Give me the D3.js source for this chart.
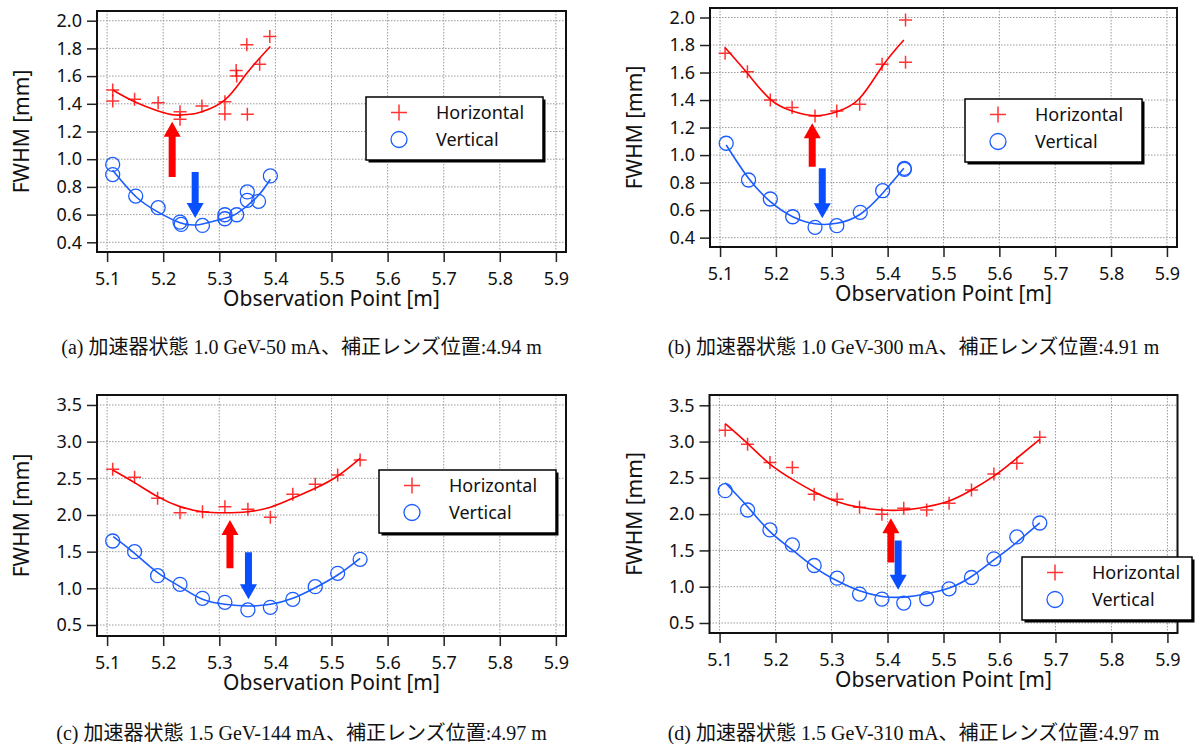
<!DOCTYPE html>
<html>
<head>
<meta charset="utf-8">
<script src="https://d3js.org/d3.v7.min.js"></script>
<style>
  body { margin: 0; background: #fff; }
  text { font-family: 'Noto Sans', sans-serif; fill: #111; }
  .grid line { stroke: #9a9a9a; stroke-width: 1; stroke-dasharray: 1.5,1.5; }
  .axis text { font-size: 18px; }
  .axis line { stroke: #222; stroke-width: 1.5px; }
  .axis path { display: none; }
  .title { font-size: 21px; text-anchor: middle; }
  .legend text { font-size: 18px; }
  .caption { font-family: 'Liberation Serif', 'Noto Sans CJK JP', serif; font-size: 20px; text-anchor: middle; }
</style>
</head>
<body>
<svg id="chart" width="1200" height="744"></svg>
<script>
// ticks
var xTicks = [5.1, 5.2, 5.3, 5.4, 5.5, 5.6, 5.7, 5.8, 5.9];
var yTicksLow = [0.4, 0.6, 0.8, 1.0, 1.2, 1.4, 1.6, 1.8, 2.0];
var yTicksHigh = [0.5, 1.0, 1.5, 2.0, 2.5, 3.0, 3.5];

// (a) 1.0 GeV-50 mA
var aHoriz = [[5.110,1.50],[5.110,1.42],[5.149,1.433],[5.191,1.408],[5.230,1.343],[5.230,1.288],
  [5.269,1.384],[5.310,1.415],[5.310,1.326],[5.330,1.64],[5.331,1.60],[5.349,1.826],[5.350,1.324],
  [5.372,1.686],[5.390,1.886]];
var aHorizFit = [[5.110,1.500],[5.149,1.415],[5.191,1.348],[5.221,1.319],[5.248,1.324],[5.269,1.343],
  [5.310,1.428],[5.349,1.620],[5.391,1.814]];
var aVert = [[5.110,0.962],[5.110,0.889],[5.151,0.734],[5.191,0.650],[5.230,0.546],[5.232,0.529],
  [5.270,0.522],[5.310,0.599],[5.310,0.570],[5.331,0.599],[5.350,0.764],[5.350,0.703],[5.370,0.696],
  [5.391,0.879]];
var aVertFit = [[5.110,0.920],[5.152,0.727],[5.191,0.618],[5.230,0.541],[5.266,0.529],[5.307,0.570],
  [5.331,0.607],[5.367,0.727],[5.391,0.855]];
var aArrows = [[5.216,0.872,1.27],[5.257,0.908,0.575]];

// (b) 1.0 GeV-300 mA
var bHoriz = [[5.109,1.740],[5.149,1.606],[5.190,1.400],[5.229,1.345],[5.270,1.284],[5.309,1.320],
  [5.350,1.369],[5.390,1.660],[5.432,1.982],[5.432,1.674]];
var bHorizFit = [[5.109,1.781],[5.149,1.594],[5.190,1.405],[5.229,1.320],[5.270,1.286],[5.309,1.315],
  [5.350,1.413],[5.390,1.642],[5.429,1.836]];
var bVert = [[5.111,1.086],[5.151,0.819],[5.190,0.681],[5.230,0.552],[5.270,0.475],[5.309,0.487],
  [5.351,0.584],[5.391,0.741],[5.430,0.904],[5.430,0.896]];
var bVertFit = [[5.111,1.073],[5.151,0.831],[5.190,0.661],[5.230,0.552],[5.270,0.501],[5.309,0.504],
  [5.351,0.570],[5.391,0.722],[5.429,0.904]];
var bArrows = [[5.265,0.916,1.231],[5.283,0.904,0.541]];

// (c) 1.5 GeV-144 mA
var cHoriz = [[5.110,2.623],[5.149,2.514],[5.190,2.228],[5.230,2.031],[5.270,2.045],[5.310,2.114],
  [5.351,2.078],[5.391,1.968],[5.431,2.282],[5.471,2.418],[5.511,2.545],[5.551,2.750]];
var cHorizFit = [[5.110,2.614],[5.149,2.441],[5.190,2.250],[5.230,2.114],[5.270,2.045],[5.310,2.031],
  [5.351,2.045],[5.391,2.105],[5.431,2.228],[5.471,2.364],[5.511,2.532],[5.551,2.773]];
var cVert = [[5.110,1.645],[5.149,1.500],[5.190,1.172],[5.230,1.055],[5.270,0.864],[5.310,0.809],
  [5.351,0.705],[5.391,0.741],[5.431,0.850],[5.471,1.023],[5.511,1.205],[5.551,1.396]];
var cVertFit = [[5.111,1.704],[5.149,1.477],[5.190,1.214],[5.230,1.023],[5.270,0.850],[5.310,0.782],
  [5.351,0.759],[5.391,0.782],[5.431,0.864],[5.471,1.009],[5.511,1.182],[5.551,1.409]];
var cArrows = [[5.319,1.273,1.932],[5.352,1.491,0.85]];

// (d) 1.5 GeV-310 mA
var dHoriz = [[5.110,3.156],[5.150,2.964],[5.190,2.712],[5.230,2.644],[5.269,2.273],[5.310,2.204],
  [5.350,2.094],[5.390,1.998],[5.429,2.080],[5.470,2.057],[5.510,2.149],[5.550,2.332],[5.590,2.552],
  [5.631,2.703],[5.672,3.06]];
var dHorizFit = [[5.110,3.248],[5.150,2.974],[5.190,2.689],[5.230,2.479],[5.269,2.309],[5.310,2.171],
  [5.350,2.094],[5.390,2.057],[5.429,2.057],[5.470,2.102],[5.510,2.181],[5.550,2.332],[5.590,2.524],
  [5.618,2.689],[5.672,3.03]];
var dVert = [[5.110,2.323],[5.150,2.057],[5.190,1.782],[5.230,1.576],[5.269,1.292],[5.310,1.118],
  [5.350,0.899],[5.390,0.830],[5.429,0.775],[5.470,0.834],[5.510,0.971],[5.550,1.127],[5.590,1.384],
  [5.631,1.686],[5.672,1.878]];
var dVertFit = [[5.110,2.433],[5.150,2.103],[5.190,1.759],[5.230,1.507],[5.269,1.270],[5.310,1.081],
  [5.350,0.944],[5.390,0.866],[5.429,0.857],[5.470,0.903],[5.510,0.981],[5.550,1.141],[5.590,1.370],
  [5.618,1.531],[5.672,1.88]];
var dArrows = [[5.406,1.333,1.943],[5.419,1.636,0.958]];

var captions = [
  "(a) 加速器状態 1.0 GeV-50 mA、補正レンズ位置:4.94 m",
  "(b) 加速器状態 1.0 GeV-300 mA、補正レンズ位置:4.91 m",
  "(c) 加速器状態 1.5 GeV-144 mA、補正レンズ位置:4.97 m",
  "(d) 加速器状態 1.5 GeV-310 mA、補正レンズ位置:4.97 m"
];

var xDomain = [5.082, 5.918];
var red = "#ff0000", blue = "#1a5cff";

var panels = [
  {frame: [97, 11, 566, 252], yDomain: [0.33, 2.07], yTicks: yTicksLow,
   horiz: aHoriz, horizFit: aHorizFit, vert: aVert, vertFit: aVertFit, arrows: aArrows,
   legend: [366, 97, 177], caption: captions[0], capY: 354},
  {frame: [710, 8, 1177, 247], yDomain: [0.332, 2.069], yTicks: yTicksLow,
   horiz: bHoriz, horizFit: bHorizFit, vert: bVert, vertFit: bVertFit, arrows: bArrows,
   legend: [965, 99, 177], caption: captions[1], capY: 354},
  {frame: [97, 395, 566, 636], yDomain: [0.35, 3.636], yTicks: yTicksHigh,
   horiz: cHoriz, horizFit: cHorizFit, vert: cVert, vertFit: cVertFit, arrows: cArrows,
   legend: [379, 470, 177], caption: captions[2], capY: 740},
  {frame: [709.5, 395, 1177.5, 633], yDomain: [0.362, 3.642], yTicks: yTicksHigh,
   horiz: dHoriz, horizFit: dHorizFit, vert: dVert, vertFit: dVertFit, arrows: dArrows,
   legend: [1022, 557, 170], caption: captions[3], capY: 740}
];

var svg = d3.select("#chart");

function plus(sel, s) {
  sel.append("path")
    .attr("d", "M" + (-s) + ",0H" + s + "M0," + (-s) + "V" + s)
    .attr("stroke", red).attr("stroke-width", 1.5).attr("stroke-opacity", 0.8)
    .attr("fill", "none");
}

panels.forEach(function(p) {
  var l = p.frame[0], t = p.frame[1], r = p.frame[2], b = p.frame[3];
  var x = d3.scaleLinear().domain(xDomain).range([l, r]);
  var y = d3.scaleLinear().domain(p.yDomain).range([b, t]);
  var g = svg.append("g");

  // grid
  var grid = g.append("g").attr("class", "grid");
  grid.selectAll("line.v").data(xTicks).enter().append("line")
    .attr("x1", d => x(d)).attr("x2", d => x(d)).attr("y1", t).attr("y2", b);
  grid.selectAll("line.h").data(p.yTicks).enter().append("line")
    .attr("y1", d => y(d)).attr("y2", d => y(d)).attr("x1", l).attr("x2", r);

  // axes
  g.append("g").attr("class", "axis").attr("transform", "translate(0," + b + ")")
    .call(d3.axisBottom(x).tickValues(xTicks).tickFormat(d3.format(".1f")).tickSize(10).tickPadding(10));
  g.append("g").attr("class", "axis").attr("transform", "translate(" + l + ",0)")
    .call(d3.axisLeft(y).tickValues(p.yTicks).tickFormat(d3.format(".1f")).tickSize(10).tickPadding(5));

  g.append("rect").attr("x", l).attr("y", t).attr("width", r - l).attr("height", b - t)
    .attr("fill", "none").attr("stroke", "#111").attr("stroke-width", 2);

  g.append("text").attr("class", "title")
    .attr("x", (l + r) / 2).attr("y", b + 54).text("Observation Point [m]");
  g.append("text").attr("class", "title")
    .attr("transform", "translate(" + (l - 68) + "," + ((t + b) / 2) + ") rotate(-90)")
    .text("FWHM [mm]");

  // fit curves
  var line = d3.line().x(d => x(d[0])).y(d => y(d[1])).curve(d3.curveNatural);
  g.append("path").datum(p.horizFit).attr("d", line)
    .attr("fill", "none").attr("stroke", red).attr("stroke-width", 1.6);
  g.append("path").datum(p.vertFit).attr("d", line)
    .attr("fill", "none").attr("stroke", blue).attr("stroke-width", 1.6);

  // markers
  g.append("g").selectAll("g").data(p.horiz).enter().append("g")
    .attr("transform", d => "translate(" + x(d[0]) + "," + y(d[1]) + ")")
    .each(function() { plus(d3.select(this), 6.5); });
  g.append("g").selectAll("circle").data(p.vert).enter().append("circle")
    .attr("cx", d => x(d[0])).attr("cy", d => y(d[1])).attr("r", 7)
    .attr("fill", "none").attr("stroke", blue).attr("stroke-width", 1.3);

  // arrows
  g.append("g").selectAll("path").data(p.arrows).enter().append("path")
    .attr("fill", (d, i) => i === 0 ? red : "#0a4fff")
    .attr("d", function(d) {
      var cx = x(d[0]), y0 = y(d[1]), y1 = y(d[2]);
      var dir = y1 < y0 ? -1 : 1, hl = 15, sw = 3.5, hw = 8.5;
      var yh = y1 - dir * hl;
      return "M" + (cx - sw) + "," + y0 + "L" + (cx - sw) + "," + yh + "L" + (cx - hw) + "," + yh +
        "L" + cx + "," + y1 + "L" + (cx + hw) + "," + yh + "L" + (cx + sw) + "," + yh +
        "L" + (cx + sw) + "," + y0 + "Z";
    });

  // legend
  var lw = p.legend[2];
  var lg = g.append("g").attr("class", "legend")
    .attr("transform", "translate(" + p.legend[0] + "," + p.legend[1] + ")");
  lg.append("rect").attr("x", 2.5).attr("y", 2.5).attr("width", lw).attr("height", 63).attr("fill", "#000");
  lg.append("rect").attr("width", lw).attr("height", 63)
    .attr("fill", "#fff").attr("stroke", "#000").attr("stroke-width", 1.5);
  plus(lg.append("g").attr("transform", "translate(33,15.5)"), 8);
  lg.append("circle").attr("cx", 33).attr("cy", 42.5).attr("r", 8)
    .attr("fill", "none").attr("stroke", blue).attr("stroke-width", 1.3);
  lg.append("text").attr("x", 70).attr("y", 15.5).attr("dy", "0.35em").text("Horizontal");
  lg.append("text").attr("x", 70).attr("y", 42.5).attr("dy", "0.35em").text("Vertical");

  // caption
  svg.append("text").attr("class", "caption")
    .attr("x", (l + r) / 2 - 30).attr("y", p.capY).text(p.caption);
});
</script>
</body>
</html>
